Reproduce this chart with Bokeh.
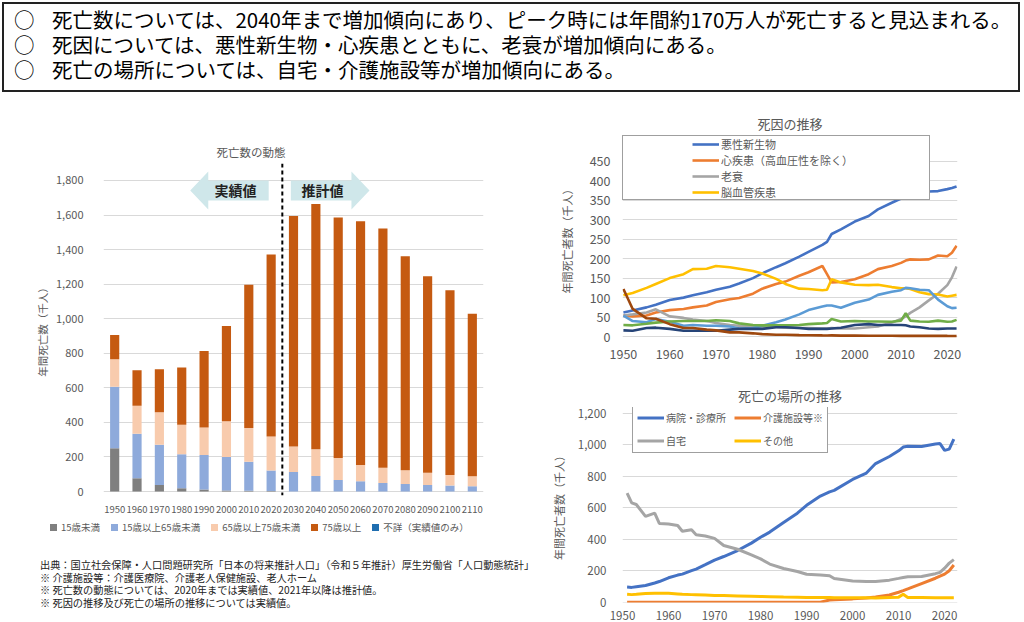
from bokeh.plotting import figure
from bokeh.models import (ColumnDataSource, FactorRange, Range1d, Legend, LegendItem,
                          Span, FixedTicker, NumeralTickFormatter, Div)
from bokeh.layouts import column, row
from bokeh.embed import file_html
from bokeh.resources import INLINE
from bokeh.core.properties import value

FONT = "Noto Sans CJK JP"
GRAY_TXT = "#595959"
GRID = "#d9d9d9"

# ---------------- data: 死亡数の動態 (千人) ----------------
bar_years = ["1950", "1960", "1970", "1980", "1990", "2000", "2010", "2020", "2030",
             "2040", "2050", "2060", "2070", "2080", "2090", "2100", "2110"]
under15 = [250, 77, 38, 19, 12, 6, 4, 3, 0, 0, 0, 0, 0, 0, 0, 0, 0]
age15_64 = [356, 258, 233, 196, 200, 194, 169, 118, 113, 90, 67, 60, 50, 44, 38, 35, 31]
age65_74 = [159, 161, 187, 172, 159, 206, 194, 198, 147, 154, 127, 94, 87, 79, 70, 61, 57]
age75 = [140, 206, 250, 330, 442, 552, 830, 1052, 1334, 1419, 1391, 1410, 1385, 1239, 1138, 1068, 941]
unknown = [0, 0, 0, 0, 0, 0, 0, 0, 0, 0, 0, 0, 0, 0, 0, 0, 0]
bar_labels = ["15歳未満", "15歳以上65歳未満", "65歳以上75歳未満", "75歳以上", "不詳（実績値のみ）"]
bar_colors = ["#7f7f7f", "#8eaadb", "#f8cbad", "#c55a11", "#1f6eb0"]

# ---------------- data: 死因の推移 (千人) ----------------
cause_years = [1950, 1952, 1955, 1957, 1960, 1963, 1965, 1968, 1970, 1973, 1975, 1978, 1980,
               1983, 1985, 1988, 1990, 1993, 1994, 1995, 1997, 2000, 2003, 2005, 2008, 2010,
               2011, 2012, 2014, 2016, 2018, 2020, 2021, 2022]
cancer = [62, 67, 75, 82, 94, 100, 106, 114, 120, 128, 136, 150, 162, 178, 188, 205, 217, 235,
          243, 263, 275, 295, 309, 326, 343, 354, 357, 361, 368, 372, 373, 378, 381, 385]
heart = [54, 52, 54, 62, 68, 71, 75, 80, 89, 96, 99, 110, 123, 135, 141, 156, 165, 181, 160,
         139, 140, 147, 160, 173, 181, 189, 195, 198, 197, 198, 208, 206, 215, 233]
senility = [54, 57, 62, 70, 52, 48, 44, 40, 35, 30, 28, 26, 26, 25, 23, 22, 22, 21, 21, 22,
            21, 21, 24, 26, 36, 45, 52, 61, 75, 93, 110, 132, 152, 180]
stroke = [106, 112, 125, 135, 150, 160, 173, 174, 181, 178, 174, 168, 162, 148, 135, 123, 122,
          119, 120, 147, 139, 133, 132, 133, 127, 124, 124, 122, 114, 109, 108, 103, 105, 107]
pneumonia = [54, 40, 37, 45, 38, 28, 30, 28, 28, 26, 21, 22, 28, 37, 44, 57, 68, 77, 80, 80,
             74, 87, 95, 107, 115, 119, 125, 124, 120, 119, 95, 78, 73, 74]
accident = [30, 29, 33, 36, 39, 40, 40, 40, 42, 40, 34, 30, 29, 29, 29, 30, 32, 34, 35, 45, 39,
            40, 39, 39, 38, 41, 60, 41, 39, 38, 41, 38, 39, 43]
suicide = [16, 15, 22, 23, 20, 15, 15, 15, 15, 18, 20, 20, 20, 24, 24, 22, 20, 20, 20, 21, 23,
           30, 32, 30, 30, 30, 29, 26, 24, 21, 20, 21, 21, 21]
tuberculosis = [122, 71, 47, 46, 32, 22, 22, 18, 16, 11, 11, 8.5, 6.4, 5, 4.7, 4, 3.7, 3.2,
                3.1, 3.2, 2.7, 2.6, 2.3, 2.3, 2.2, 2.1, 2.2, 2.1, 2.1, 1.9, 2.2, 1.9, 1.8, 1.7]
cause_series = [cancer, heart, senility, stroke, pneumonia, accident, suicide, tuberculosis]
cause_colors = ["#4472c4", "#ed7d31", "#a5a5a5", "#ffc000", "#5b9bd5", "#70ad47", "#264478", "#9e480e"]
cause_labels = ["悪性新生物", "心疾患（高血圧性を除く）", "老衰", "脳血管疾患"]

# ---------------- data: 死亡の場所の推移 (千人) ----------------
place_years = [1951, 1952, 1953, 1955, 1957, 1958, 1960, 1962, 1963, 1965, 1966, 1968, 1970,
               1972, 1975, 1978, 1980, 1982, 1985, 1988, 1990, 1993, 1995, 1996, 2000, 2003,
               2005, 2008, 2010, 2011, 2012, 2015, 2018, 2019, 2020, 2021, 2022]
hospital = [96, 94, 98, 106, 122, 131, 155, 172, 178, 200, 210, 238, 267, 290, 328, 375, 412,
            445, 506, 565, 615, 674, 700, 710, 779, 820, 880, 925, 961, 985, 990, 989, 1004,
            1007, 964, 972, 1036]
care = [0, 0, 0, 0, 0, 0, 0, 0, 0, 0, 0, 0, 0, 0, 0, 0, 0, 0, 0, 0, 0, 0, 14, 15, 21, 27, 33,
        46, 63, 73, 84, 118, 152, 165, 178, 200, 236]
home = [692, 630, 620, 545, 565, 500, 496, 487, 450, 460, 428, 420, 405, 360, 336, 300, 275,
        242, 214, 195, 177, 173, 168, 150, 134, 131, 132, 140, 151, 157, 162, 163, 181, 189,
        216, 248, 270]
other = [50, 48, 50, 55, 57, 57, 56, 52, 50, 48, 47, 45, 42, 42, 40, 38, 36, 35, 33, 32, 30,
         29, 30, 28, 28, 28, 27, 30, 32, 50, 30, 29, 28, 28, 28, 28, 28]
place_labels = ["病院・診療所", "介護施設等※", "自宅", "その他"]
place_colors = ["#4472c4", "#ed7d31", "#a5a5a5", "#ffc000"]


def style_axes(p, size):
    for ax in (p.xaxis, p.yaxis):
        ax.axis_line_color = None
        ax.major_tick_line_color = None
        ax.minor_tick_line_color = None
        ax.major_label_text_font = FONT
        ax.major_label_text_color = GRAY_TXT
        ax.major_label_text_font_size = size
        ax.axis_label_text_font = FONT
        ax.axis_label_text_color = GRAY_TXT
        ax.axis_label_text_font_style = "normal"
    p.xgrid.grid_line_color = None
    p.ygrid.grid_line_color = GRID
    p.outline_line_color = None
    p.title.text_font = FONT
    p.title.text_color = GRAY_TXT
    p.title.text_font_style = "normal"


# ================= left chart =================
src = ColumnDataSource(dict(year=bar_years, u15=under15, a1564=age15_64, a6574=age65_74,
                            a75=age75, unk=unknown))
p1 = figure(x_range=FactorRange(factors=bar_years), y_range=Range1d(-23, 1898),
            width=545, height=420, output_backend="svg", toolbar_location=None,
            min_border_left=103, min_border_right=62, min_border_top=68, min_border_bottom=20,
            title="死亡数の動態")
style_axes(p1, "11px")
p1.xaxis.major_label_text_font_size = "9.5px"
p1.xaxis.major_label_standoff = 4
p1.yaxis.ticker = FixedTicker(ticks=list(range(0, 1801, 200)))
p1.yaxis.formatter = NumeralTickFormatter(format="0,0")
p1.yaxis.major_label_standoff = 14
p1.yaxis.axis_label = "年間死亡数（千人）"
p1.yaxis.axis_label_text_font_size = "10.5px"
p1.yaxis.axis_label_standoff = 3
p1.title.text_font_size = "11.5px"
p1.title.align = "left"
p1.title.offset = 113
p1.title.standoff = 8

rs = p1.vbar_stack(["u15", "a1564", "a6574", "a75", "unk"], x="year", width=0.41,
                   fill_color=bar_colors, line_color=None, source=src)

p1.add_layout(Span(location=8, dimension="height", line_color="black", line_width=2,
                   line_dash="4 3"))

# arrow annotations (shape sizes in pixels converted to data units)
PXX = 1 / 22.29
PXY = 1 / 0.1728


def arrow_poly(x_tail, x_tip, yc):
    d = 1 if x_tip > x_tail else -1
    hb = 10 * PXY
    hh = 19 * PXY
    hl = 18 * PXX
    xs = [x_tail, x_tip - d * hl, x_tip - d * hl, x_tip, x_tip - d * hl, x_tip - d * hl, x_tail]
    ys = [yc + hb, yc + hb, yc + hh, yc, yc - hh, yc - hb, yc - hb]
    return xs, ys


ya = 1742
ax1, ay1 = arrow_poly(7.39, 3.88, ya)
ax2, ay2 = arrow_poly(8.38, 11.9, ya)
p1.patch(ax1, ay1, fill_color="#cfe7ea", line_color=None)
p1.patch(ax2, ay2, fill_color="#cfe7ea", line_color=None)
p1.text(x=[5.9, 9.8], y=[ya, ya], text=["実績値", "推計値"], text_font=value(FONT),
        text_font_size="14px", text_font_style="bold", text_color="#222222",
        text_align="center", text_baseline="middle")

# legend strip (HTML) under the bar chart
legend_html = "".join(
    "<span style='display:inline-block;width:7px;height:7px;background:%s;"
    "margin-right:4px;vertical-align:middle;position:relative;top:-1px'></span>"
    "<span style='margin-right:11px'>%s</span>" % (c, l)
    for c, l in zip(bar_colors, bar_labels))
legend_div = Div(text=(
    "<div style=\"font-family:'Noto Sans CJK JP';font-size:9.5px;line-height:24px;"
    "color:#595959;padding:0 0 0 50px;white-space:nowrap;\">" + legend_html + "</div>"),
    width=545, height=24, margin=0)

foot = Div(text=(
    "<div style=\"font-family:'Noto Sans CJK JP';font-size:10.2px;line-height:12.5px;"
    "color:#222;padding:20px 0 0 40px;white-space:nowrap;\">"
    "出典：国立社会保障・人口問題研究所「日本の将来推計人口」（令和５年推計）厚生労働省「人口動態統計」<br>"
    "※ 介護施設等：介護医療院、介護老人保健施設、老人ホーム<br>"
    "※ 死亡数の動態については、2020年までは実績値、2021年以降は推計値。<br>"
    "※ 死因の推移及び死亡の場所の推移については実績値。</div>"),
    width=545, height=83, margin=0)

# ================= top-right chart =================
p2 = figure(x_range=Range1d(1949.8, 2022.2), y_range=Range1d(-15, 518),
            width=479, height=275, output_backend="svg", toolbar_location=None,
            min_border_left=77, min_border_right=67, min_border_top=39, min_border_bottom=28,
            title="死因の推移")
style_axes(p2, "12.5px")
p2.title.align = "center"
p2.title.text_font_size = "13px"
p2.title.standoff = 4
p2.xaxis.ticker = FixedTicker(ticks=list(range(1950, 2021, 10)))
p2.yaxis.ticker = FixedTicker(ticks=list(range(0, 451, 50)))
p2.xaxis.major_label_standoff = 0
p2.yaxis.major_label_standoff = 6
p2.yaxis.axis_label = "年間死亡者数（千人）"
p2.yaxis.axis_label_text_font_size = "11px"
p2.yaxis.axis_label_standoff = 12

cause_rs = [p2.line(cause_years, vals, line_color=col, line_width=2.6)
            for vals, col in zip(cause_series, cause_colors)]

dummy2 = p2.line([], [], line_alpha=0)
box2 = Legend(items=[LegendItem(label=" ", renderers=[dummy2])], location=(0, 142),
              glyph_width=1, glyph_height=63, label_width=305, label_height=63,
              label_standoff=0, padding=0, spacing=0, margin=0,
              border_line_color="#404040", border_line_width=1.2,
              background_fill_color="white", background_fill_alpha=1)
p2.add_layout(box2)
leg2 = Legend(items=[LegendItem(label=l, renderers=[r]) for l, r in zip(cause_labels, cause_rs[:4])],
              location=(70, 142), glyph_width=27, glyph_height=16, label_height=16,
              label_standoff=2, padding=0, spacing=0, margin=0,
              label_text_font=FONT, label_text_font_size="11px", label_text_color=GRAY_TXT,
              border_line_color=None, background_fill_alpha=0)
p2.add_layout(leg2)

# ================= bottom-right chart =================
p3 = figure(x_range=Range1d(1950, 2022.8), y_range=Range1d(-2, 1236),
            width=479, height=252, output_backend="svg", toolbar_location=None,
            min_border_left=77, min_border_right=67, min_border_top=37, min_border_bottom=20,
            title="死亡の場所の推移")
style_axes(p3, "11.5px")
p3.title.align = "center"
p3.title.text_font_size = "13px"
p3.title.standoff = 5
p3.xaxis.ticker = FixedTicker(ticks=list(range(1950, 2021, 10)))
p3.yaxis.ticker = FixedTicker(ticks=list(range(0, 1201, 200)))
p3.yaxis.formatter = NumeralTickFormatter(format="0,0")
p3.xaxis.major_label_standoff = 2
p3.yaxis.major_label_standoff = 10
p3.yaxis.axis_label = "年間死亡者数（千人）"
p3.yaxis.axis_label_text_font_size = "11px"
p3.yaxis.axis_label_standoff = 8

place_rs = [p3.line(place_years, vals, line_color=col, line_width=3)
            for vals, col in zip([hospital, care, home, other], place_colors)]

leg3 = Legend(items=[LegendItem(label=l, renderers=[r]) for l, r in zip(place_labels, place_rs)],
              location=(10, 149), orientation="horizontal", ncols=2,
              glyph_width=27, glyph_height=13, label_height=13, label_standoff=2,
              padding=4, spacing=8, margin=0,
              label_text_font=FONT, label_text_font_size="10px", label_text_color=GRAY_TXT,
              border_line_color="#404040", border_line_width=1.2,
              background_fill_color="white", background_fill_alpha=1)
p3.add_layout(leg3)

# ================= header =================
header = Div(text=(
    "<div style=\"margin:2px 0 0 2px;width:1004px;height:83px;border:2px solid #222;"
    "font-family:'Noto Sans CJK JP';font-size:20.5px;line-height:25px;color:#000;"
    "padding:3px 0 0 10px;box-sizing:content-box;white-space:nowrap;\">"
    "<div><span style='display:inline-block;width:38px'>○</span>死亡数については、2040年まで増加傾向にあり、ピーク時には年間約170万人が死亡すると見込まれる。</div>"
    "<div><span style='display:inline-block;width:38px'>○</span>死因については、悪性新生物・心疾患とともに、老衰が増加傾向にある。</div>"
    "<div><span style='display:inline-block;width:38px'>○</span>死亡の場所については、自宅・介護施設等が増加傾向にある。</div></div>"),
    width=1024, height=95, margin=0)

layout = column(header, row(column(p1, legend_div, foot), column(p2, p3)))

open("out.html", "w").write(file_html(layout, INLINE))
